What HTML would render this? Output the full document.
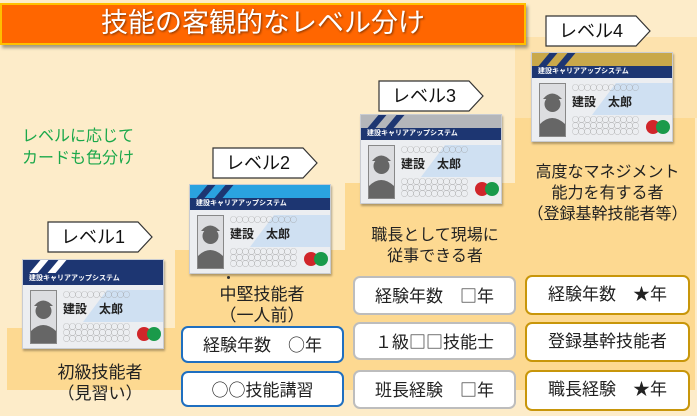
<!DOCTYPE html>
<html><head><meta charset="utf-8"><style>
*{margin:0;padding:0;box-sizing:border-box}
body{width:697px;height:416px;overflow:hidden;background:#fdecc9;font-family:"Liberation Sans","Noto Sans CJK JP",sans-serif;position:relative}
.a{position:absolute}
.j{font-family:"Noto Sans CJK JP",sans-serif}
.step{position:absolute;background:#fdd991}
.title{left:0;top:3px;width:526px;height:42px;background:#ff6600;border:2px solid #ffc000;box-shadow:2px 3px 3px rgba(0,0,0,.35);color:#fff;font-size:27px;text-align:center;line-height:37px;text-shadow:1px 1px 2px rgba(0,0,0,.5)}
.lab{position:absolute;width:106px;height:32px}
.lab svg{position:absolute;left:0;top:0}
.lab span{position:absolute;left:0;width:92px;top:0;line-height:32px;text-align:center;font-size:18px;color:#111}
.card{position:absolute;width:142px;height:90px;background:#eceef1;border:1px solid #c9ccd2;box-shadow:1px 2px 2px rgba(0,0,0,.3);overflow:hidden}
.card .top{position:absolute;left:0;top:0;width:142px;height:13px}
.card .sl{position:absolute;top:0;height:13px;width:8px;background:#fff;transform:skewX(-40deg)}
.card .bar{position:absolute;left:0;top:13px;width:142px;height:12px;background:#1d3672;color:#fff;font-size:7px;line-height:12px;padding-left:6px;font-weight:bold}
.card .ph{position:absolute;left:7px;top:30px;width:27px;height:54px;background:#dcdde0;border:1px solid #888}
.card .pnl{position:absolute;left:60px;top:30px;width:80px;height:32px;background:#cfe0f2;clip-path:polygon(30% 0,100% 0,100% 100%,0 100%)}
.card .dots{position:absolute;left:40px;font-size:7px;color:#999;letter-spacing:-1px;line-height:6px;font-family:"Noto Sans CJK JP",sans-serif}
.card .nm{position:absolute;left:40px;top:40px;font-size:12px;color:#222;font-weight:bold}
.card .lg{position:absolute;top:67px;width:14px;height:14px;border-radius:50%}
.box{position:absolute;background:#fff;border-radius:7px;border:2.5px solid;font-size:17px;color:#222;text-align:center}
.b2{border-color:#1f6fc0}.b3{border-color:#bdbdbd}.b4{border-color:#c8960a}
.t{position:absolute;text-align:center;font-size:16px;color:#222;line-height:21px}
</style></head><body>
<div class="a" style="left:515px;top:37px;width:182px;height:81px;background:#fde2ad"></div>
<div class="step" style="left:7px;top:328px;width:170px;height:62px"></div>
<div class="step" style="left:175px;top:250px;width:172px;height:140px"></div>
<div class="step" style="left:345px;top:183px;width:172px;height:207px"></div>
<div class="step" style="left:515px;top:118px;width:180px;height:272px"></div>

<div class="a title">技能の客観的なレベル分け</div>

<div class="a" style="left:22px;top:126px;color:#1aa84a;font-size:16px;line-height:22px">レベルに応じて<br>カードも色分け</div>

<div class="lab" style="left:47px;top:221px"><svg width="106" height="32"><polygon points="1,1 91,1 105,16 91,31 1,31" fill="#fff" stroke="#333" stroke-width="1.2"/></svg><span>レベル1</span></div>
<div class="lab" style="left:212px;top:147px"><svg width="106" height="32"><polygon points="1,1 91,1 105,16 91,31 1,31" fill="#fff" stroke="#333" stroke-width="1.2"/></svg><span>レベル2</span></div>
<div class="lab" style="left:378px;top:80px"><svg width="106" height="32"><polygon points="1,1 91,1 105,16 91,31 1,31" fill="#fff" stroke="#333" stroke-width="1.2"/></svg><span>レベル3</span></div>
<div class="lab" style="left:545px;top:15px"><svg width="106" height="32"><polygon points="1,1 91,1 105,16 91,31 1,31" fill="#fff" stroke="#333" stroke-width="1.2"/></svg><span>レベル4</span></div>

<div class="card" style="left:22px;top:259px"><div class="top" style="background:#1d3672"></div><div class="sl" style="left:12px"></div><div class="sl" style="left:30px"></div><div class="bar">建設キャリアアップシステム</div><div class="ph"><svg width="25" height="52"><circle cx="12.5" cy="20" r="8" fill="#666"/><path d="M3 15 Q12 4 22 15Z" fill="#666"/><path d="M0 52 L0 40 Q12 28 25 40 L25 52Z" fill="#666"/></svg></div><div class="pnl"></div><div class="dots" style="top:32px">○○○○○○○○○○○</div><div class="nm">建設　太郎</div><div class="dots" style="top:64px">○○○○○○○○○○○<br>○○○○○○○○○○○<br>○○○○○○○○○○○</div><div class="lg" style="left:114px;background:#d0262a"></div><div class="lg" style="left:124px;background:#1a9a4a"></div></div>

<div class="card" style="left:189px;top:184px"><div class="top" style="background:#2aa3e0"></div><div class="sl" style="left:12px;background:#1d3672"></div><div class="sl" style="left:30px;background:#1d3672"></div><div class="bar">建設キャリアアップシステム</div><div class="ph"><svg width="25" height="52"><circle cx="12.5" cy="20" r="8" fill="#666"/><path d="M3 15 Q12 4 22 15Z" fill="#666"/><path d="M0 52 L0 40 Q12 28 25 40 L25 52Z" fill="#666"/></svg></div><div class="pnl"></div><div class="dots" style="top:32px">○○○○○○○○○○○</div><div class="nm">建設　太郎</div><div class="dots" style="top:64px">○○○○○○○○○○○<br>○○○○○○○○○○○<br>○○○○○○○○○○○</div><div class="lg" style="left:114px;background:#d0262a"></div><div class="lg" style="left:124px;background:#1a9a4a"></div></div>

<div class="card" style="left:360px;top:114px"><div class="top" style="background:#b4b6ba"></div><div class="sl" style="left:12px;background:#1d3672"></div><div class="sl" style="left:30px;background:#1d3672"></div><div class="bar">建設キャリアアップシステム</div><div class="ph"><svg width="25" height="52"><circle cx="12.5" cy="20" r="8" fill="#666"/><path d="M3 15 Q12 4 22 15Z" fill="#666"/><path d="M0 52 L0 40 Q12 28 25 40 L25 52Z" fill="#666"/></svg></div><div class="pnl"></div><div class="dots" style="top:32px">○○○○○○○○○○○</div><div class="nm">建設　太郎</div><div class="dots" style="top:64px">○○○○○○○○○○○<br>○○○○○○○○○○○<br>○○○○○○○○○○○</div><div class="lg" style="left:114px;background:#d0262a"></div><div class="lg" style="left:124px;background:#1a9a4a"></div></div>

<div class="card" style="left:531px;top:52px"><div class="top" style="background:#c9a84a"></div><div class="sl" style="left:12px;background:#1d3672"></div><div class="sl" style="left:30px;background:#1d3672"></div><div class="bar">建設キャリアアップシステム</div><div class="ph"><svg width="25" height="52"><circle cx="12.5" cy="20" r="8" fill="#666"/><path d="M3 15 Q12 4 22 15Z" fill="#666"/><path d="M0 52 L0 40 Q12 28 25 40 L25 52Z" fill="#666"/></svg></div><div class="pnl"></div><div class="dots" style="top:32px">○○○○○○○○○○○</div><div class="nm">建設　太郎</div><div class="dots" style="top:64px">○○○○○○○○○○○<br>○○○○○○○○○○○<br>○○○○○○○○○○○</div><div class="lg" style="left:114px;background:#d0262a"></div><div class="lg" style="left:124px;background:#1a9a4a"></div></div>

<div class="t" style="left:20px;top:362px;width:160px;font-size:17px">初級技能者<br>（見習い）</div>
<div class="a" style="left:227px;top:276px;width:3px;height:3px;background:#333;border-radius:50%"></div>
<div class="t" style="left:182px;top:284px;width:160px;font-size:17px">中堅技能者<br>（一人前）</div>
<div class="t" style="left:350px;top:225px;width:170px">職長として現場に<br>従事できる者</div>
<div class="t" style="left:515px;top:162px;width:185px">高度なマネジメント<br>能力を有する者<br>（登録基幹技能者等）</div>

<div class="box b2" style="left:181px;top:326px;width:163px;height:37px;line-height:32px">経験年数　<span class="j">○</span>年</div>
<div class="box b2" style="left:181px;top:371px;width:163px;height:36px;line-height:31px"><span class="j">○○</span>技能講習</div>

<div class="box b3" style="left:353px;top:276px;width:163px;height:39px;line-height:34px">経験年数　<span class="j">□</span>年</div>
<div class="box b3" style="left:353px;top:322px;width:163px;height:38px;line-height:33px">１級<span class="j">□□</span>技能士</div>
<div class="box b3" style="left:353px;top:370px;width:163px;height:39px;line-height:34px">班長経験　<span class="j">□</span>年</div>

<div class="box b4" style="left:525px;top:275px;width:165px;height:40px;line-height:35px">経験年数　★年</div>
<div class="box b4" style="left:525px;top:322px;width:165px;height:40px;line-height:35px">登録基幹技能者</div>
<div class="box b4" style="left:525px;top:370px;width:165px;height:41px;line-height:36px">職長経験　★年</div>
</body></html>
